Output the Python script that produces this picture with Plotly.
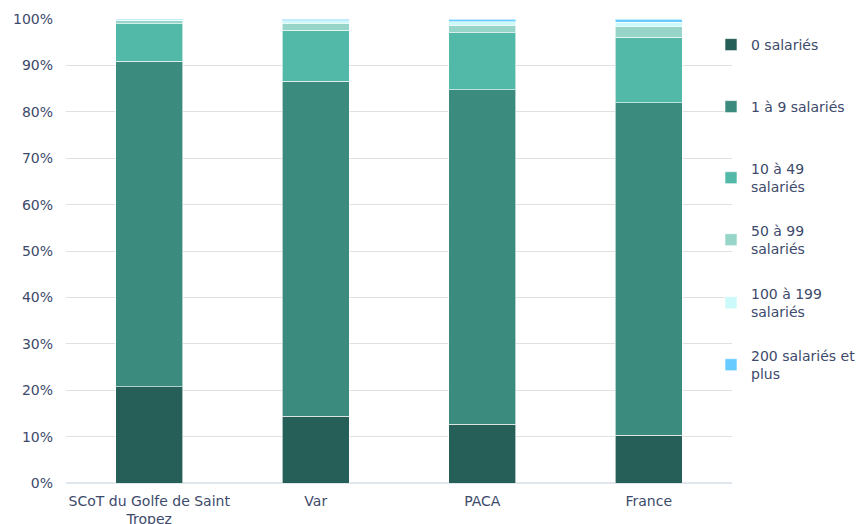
import plotly.graph_objects as go

categories = ["SCoT du Golfe de Saint<br>Tropez", "Var", "PACA", "France"]
series_names = ["0 salariés", "1 à 9 salariés", "10 à 49<br>salariés", "50 à 99<br>salariés",
                "100 à 199<br>salariés", "200 salariés et<br>plus"]
s0 = [20.7, 14.4, 12.7, 10.3]
s1 = [70.2, 72.2, 72.0, 71.6]
s2 = [8.1, 11.0, 12.3, 14.2]
s3 = [0.6, 1.5, 1.7, 2.2]
s4 = [0.2, 0.5, 0.7, 1.0]
s5 = [0.2, 0.4, 0.6, 0.7]
series_values = [s0, s1, s2, s3, s4, s5]
colors = ["#265F58", "#3B8C7E", "#52B9A8", "#97D5C9", "#CCFAFA", "#66CCFF"]

font_family = "DejaVu Sans"
text_color = "#3D4A6B"

# page body has an 8px margin, so the figure is drawn 8px right/down
W, H = 855, 516
L, T, R, B = 58, 11, 131, 41
plot_h = H - T - B

fig = go.Figure()
legend_ids = ["legend", "legend2", "legend3", "legend4", "legend5", "legend6"]
for i, (name, vals, col) in enumerate(zip(series_names, series_values, colors)):
    fig.add_trace(go.Bar(
        x=categories, y=vals, name=name, showlegend=True,
        marker=dict(color=col, line=dict(color="rgba(255,255,255,0.6)", width=1)),
        width=0.4, legend=legend_ids[i],
    ))

legend_text_y = [45, 107, 169, 231, 294, 356]
layout_legends = {}
for i, lid in enumerate(legend_ids):
    top_fig = legend_text_y[i] - 24
    layout_legends[lid] = dict(
        x=(711 - 8 - L) / (W - L - R), xanchor="left",
        y=(H - B - top_fig) / plot_h, yanchor="top",
        font=dict(family=font_family, size=14, color=text_color),
        bgcolor="rgba(0,0,0,0)", itemwidth=30, visible=True,
    )

fig.update_layout(
    barmode="stack",
    showlegend=True,
    width=W, height=H,
    margin=dict(l=L, r=R, t=T, b=B, autoexpand=False),
    paper_bgcolor="white", plot_bgcolor="white",
    font=dict(family=font_family, size=14, color=text_color),
    xaxis=dict(showgrid=False, showline=False, ticks="", tickfont=dict(size=14),
               ticklabelstandoff=8),
    yaxis=dict(range=[0, 100], dtick=10, ticksuffix="%", showgrid=True,
               gridcolor="#E0E0E0", gridwidth=1, zeroline=True, zerolinecolor="#E0E6EE",
               tickfont=dict(size=14), ticks="", ticklen=0, ticklabelstandoff=12),
    bargap=0.6,
    **layout_legends,
)

fig.write_html("out.html")
